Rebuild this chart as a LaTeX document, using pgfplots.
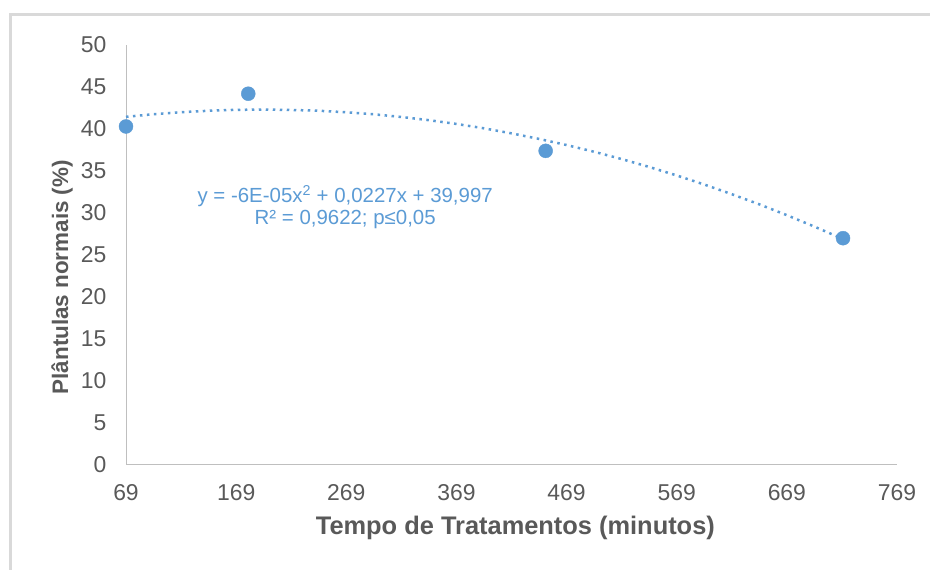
\documentclass[border=0pt]{standalone}
\usepackage{fontspec}
\setmainfont{Liberation Sans}
\usepackage{pgfplots}
\pgfplotsset{compat=1.18}
\definecolor{ptblue}{HTML}{5B9BD5}
\definecolor{tickgray}{HTML}{595959}
\definecolor{axgray}{HTML}{BFBFBF}
\definecolor{framegray}{HTML}{D9D9D9}
\begin{document}
\begin{tikzpicture}[x=1bp,y=1bp]
\useasboundingbox (0,0) rectangle (930,570);
\fill[white] (0,0) rectangle (930,570);
\draw[framegray,line width=3bp] (10,-5) -- (10,555) -- (940,555);
\begin{axis}[
  at={(126bp,105bp)}, anchor=south west,
  scale only axis, width=771bp, height=420bp,
  xmin=69, xmax=769, ymin=0, ymax=50,
  xtick={69,169,269,369,469,569,669,769},
  ytick={0,5,10,15,20,25,30,35,40,45,50},
  axis lines=left,
  axis line style={axgray, line width=1bp, -},
  major tick length=0pt,
  ticklabel style={font=\fontsize{23}{26}\selectfont, text=tickgray},
  /pgf/number format/assume math mode=true,
  /pgf/number format/1000 sep={},
  xticklabel style={yshift=-16bp},
  yticklabel style={xshift=-16bp},
  xlabel={Tempo de Tratamentos (minutos)},
  ylabel={Plântulas normais (\%)},
  xlabel style={font=\bfseries\fontsize{25.5}{28}\selectfont, text=tickgray, at={(rel axis cs:0.505,0)}, anchor=center, yshift=-63bp},
  ylabel style={font=\bfseries\fontsize{22.5}{26}\selectfont, text=tickgray, at={(rel axis cs:0,0.447)}, anchor=center, yshift=64bp},
  clip=false,
]
\addplot[ptblue, line width=2.5bp, dash pattern=on 2.5bp off 4.5bp] coordinates {
(69,41.45) (94,41.76) (119,42.00) (144,42.17) (169,42.28) (194,42.31)
(219,42.27) (244,42.17) (269,41.99) (294,41.75) (319,41.43) (344,41.05)
(369,40.60) (394,40.08) (419,39.48) (444,38.82) (469,38.09) (494,37.29)
(519,36.42) (544,35.48) (569,34.47) (594,33.39) (619,32.24) (644,31.03)
(669,29.74) (694,28.38) (720,26.90)
};
\addplot[only marks, mark=*, mark size=7bp, mark options={fill=ptblue, draw=ptblue}] coordinates {
(69,40.3) (180,44.2) (450,37.4) (720,27.0)
};
\node[text=ptblue, font=\fontsize{20.5}{22}\selectfont, align=center] at (axis cs:268,30.7)
  {y = -6E-05x\textsuperscript{2} + 0,0227x + 39,997\\R² = 0,9622; p≤0,05};
\end{axis}
\end{tikzpicture}
\end{document}
